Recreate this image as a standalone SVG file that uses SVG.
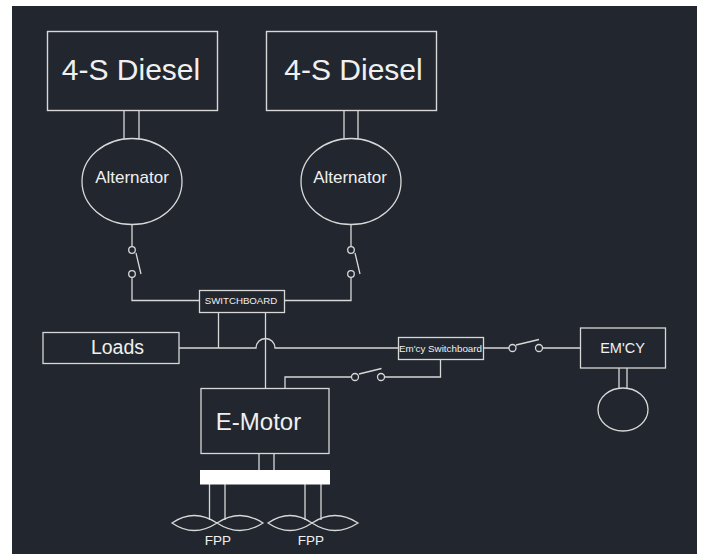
<svg xmlns="http://www.w3.org/2000/svg" width="702" height="554" viewBox="0 0 702 554">
<style>
.b{fill:none;stroke:#d8d8d8;stroke-width:1.4}
.c{fill:none;stroke:#d8d8d8;stroke-width:1.3}
.t{fill:#f0f0f0;font-family:"Liberation Sans",Arial,sans-serif;text-anchor:middle}
</style>
<rect width="702" height="554" fill="#ffffff"/>
<rect x="12" y="6" width="685" height="548" fill="#22272f"/>
<g id="connectors" class="c">
<path d="M124 110V139M139 110V139M344 110V139M358 110V139"/>
<path d="M132 224V247M132 277V300.500H199M136 253L141 274"/>
<path d="M351 224V247M351 277V300.500H284M355 253L360 274"/>
<path d="M218.500 312V348M265.500 312V388"/>
<path d="M179 348H256A9.500 9.500 0 0 1 275 348H398"/>
<path d="M483 348H509M516 345L539 339.500M542.500 348H580"/>
<path d="M440.500 359V377H384.500M359 374L381.500 368.500M351.500 377H285V388"/>
<path d="M619 368V388M627 368V388"/>
<path d="M259 454V470M274 454V470"/>
<path d="M209.500 484V520M225 484V520M305 484V520M321 484V520"/>
<circle cx="132" cy="250" r="3.300"/><circle cx="132" cy="274" r="3.300"/>
<circle cx="351" cy="250" r="3.300"/><circle cx="351" cy="274" r="3.300"/>
<circle cx="512.500" cy="348" r="3.500"/><circle cx="539" cy="348" r="3.500"/>
<circle cx="355" cy="377" r="3.500"/><circle cx="381" cy="377" r="3.500"/>
</g>
<g id="diesel-1"><rect class="b" x="47.500" y="31.500" width="170" height="79"/><text class="t" x="131" y="80" font-size="30">4-S Diesel</text></g>
<g id="diesel-2"><rect class="b" x="266.500" y="31.500" width="170" height="79"/><text class="t" x="353.500" y="80" font-size="30">4-S Diesel</text></g>
<g id="alternator-1"><ellipse class="c" cx="132" cy="181.500" rx="50" ry="43"/><text class="t" x="132" y="183" font-size="17">Alternator</text></g>
<g id="alternator-2"><ellipse class="c" cx="351" cy="181.500" rx="50" ry="43"/><text class="t" x="350" y="183" font-size="17">Alternator</text></g>
<g id="switchboard"><rect class="c" x="199.500" y="290.500" width="85" height="22"/><text class="t" x="241" y="304" font-size="9.700">SWITCHBOARD</text></g>
<g id="loads"><rect class="c" x="43" y="332.500" width="136" height="31"/><text class="t" x="117.500" y="354" font-size="19.500">Loads</text></g>
<g id="emcy-switchboard"><rect class="c" x="398.500" y="337.500" width="85" height="22"/><text class="t" x="440.500" y="351.500" font-size="9.800">Em'cy Switchboard</text></g>
<g id="emcy"><rect class="c" x="580.500" y="328" width="85" height="40"/><text class="t" x="622.500" y="353" font-size="14.500">EM'CY</text></g>
<g id="emcy-generator"><ellipse class="c" cx="623" cy="409.500" rx="25" ry="21.500"/></g>
<g id="e-motor"><rect class="c" x="201" y="388.500" width="128" height="65"/><text class="t" x="258.500" y="430" font-size="24">E-Motor</text></g>
<g id="gearbox"><rect x="200" y="470" width="130" height="14.500" fill="#ffffff"/></g>
<g id="fpp-1"><path class="c" d="M172 523Q194 508 217 523Q240 508 263 523Q240 538 217 523Q194 538 172 523Z"/><text class="t" x="218" y="544.500" font-size="13.500">FPP</text></g>
<g id="fpp-2"><path class="c" d="M268 523Q290 508 312 523Q335 508 358 523Q335 538 312 523Q290 538 268 523Z"/><text class="t" x="311" y="544.500" font-size="13.500">FPP</text></g>
</svg>
